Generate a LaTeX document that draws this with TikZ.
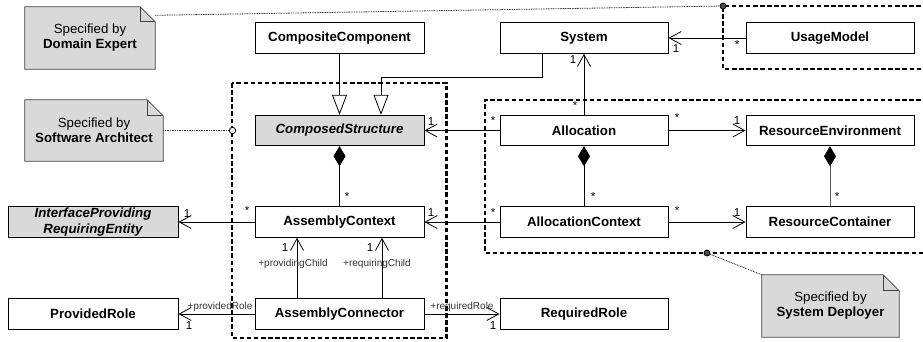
\documentclass[tikz,border=0pt]{standalone}
\usepackage{fontspec}
\setmainfont{Liberation Sans}
\usetikzlibrary{arrows.meta,backgrounds}

\tikzset{
  cls/.style={draw, line width=0.9pt, fill=white, minimum width=169pt, minimum height=30.5pt,
    inner sep=0pt, align=center, font=\fontsize{13.3}{15}\selectfont\bfseries},
  abstractcls/.style={cls, fill=gray!30, font=\fontsize{13.3}{15.5}\selectfont\bfseries\itshape},
  assoc/.style={draw, line width=0.8pt, -{Straight Barb[length=12pt,width=13pt]}},
  gen/.style={draw, line width=0.8pt, -{Triangle[length=20pt,width=15pt,fill=white]}},
  comp/.style={draw, line width=0.8pt, {Diamond[length=20pt,width=12pt,color=black]}-},
  mult/.style={inner sep=0pt, font=\fontsize{11.5}{12}\selectfont},
  role/.style={inner sep=0pt, font=\fontsize{10}{10}\selectfont, text=black!80},
  region/.style={line width=2.8pt, dash pattern=on 4.5pt off 2.6pt},
  notetext/.style={inner sep=0pt, align=center, font=\fontsize{13.3}{15}\selectfont},
  notebody/.style={draw=black!75, line width=0.8pt, fill=gray!30},
  notefold/.style={draw=black!75, line width=0.8pt},
  annot/.style={draw=black!80, line width=0.8pt, dash pattern=on 1pt off 0.7pt},
  dot/.style={draw=black, line width=0.8pt, fill=gray!60!black},
  opendot/.style={draw=black, line width=0.8pt, fill=white},
}

% dog-eared note outline behind a text node: #1 node name, #2 fold size
\newcommand\dogear[2]{%
  \begin{scope}[on background layer]
    \draw[notebody] (#1.north west) -- ([xshift=-#2]#1.north east)
      -- ([yshift=-#2]#1.north east) -- (#1.south east) -- (#1.south west) -- cycle;
    \draw[notefold] ([xshift=-#2]#1.north east) -- ([xshift=-#2,yshift=-#2]#1.north east)
      -- ([yshift=-#2]#1.north east);
  \end{scope}}

\begin{document}
\begin{tikzpicture}[x=1pt,y=-1pt]
\useasboundingbox (0,0) rectangle (923,341);

% responsibility regions
\draw[region] (232,83) rectangle (446.5,338);
\draw[region] (935,100) -- (485,100) -- (485,253) -- (935,253);
\draw[region] (935,6) -- (723,6) -- (723,69) -- (935,69);

% classes
\node[cls] (CompositeComponent) at (339.5,38) {CompositeComponent};
\node[cls, minimum width=168pt] (System) at (584,38) {System};
\node[cls, minimum width=168pt] (UsageModel) at (830,38) {UsageModel};
\node[abstractcls] (ComposedStructure) at (339.5,130.5) {ComposedStructure};
\node[cls, minimum width=168pt] (Allocation) at (584,130.5) {Allocation};
\node[cls, minimum width=168pt] (ResourceEnvironment) at (830,130.5) {ResourceEnvironment};
\node[abstractcls, minimum width=170pt] (IPRE) at (93,222) {InterfaceProviding\\RequiringEntity};
\node[cls] (AssemblyContext) at (339.5,222) {AssemblyContext};
\node[cls, minimum width=168pt] (AllocationContext) at (584,222) {AllocationContext};
\node[cls, minimum width=168pt] (ResourceContainer) at (830,222) {ResourceContainer};
\node[cls, minimum width=170pt] (ProvidedRole) at (93,314) {ProvidedRole};
\node[cls] (AssemblyConnector) at (339.5,314) {AssemblyConnector};
\node[cls, minimum width=168pt] (RequiredRole) at (584,314) {RequiredRole};

% notes
\node[notetext, minimum width=130pt, minimum height=62pt] (deNote) at (90,38)
  {Specified by\\\textbf{Domain Expert}};
\node[notetext, minimum width=138pt, minimum height=61pt] (saNote) at (94,130.5)
  {Specified by\\\textbf{Software Architect}};
\node[notetext, minimum width=137pt, minimum height=62pt] (sdNote) at (830.5,306)
  {Specified by\\\textbf{System Deployer}};
\dogear{deNote}{15pt}
\dogear{saNote}{16pt}
\dogear{sdNote}{16pt}

% generalisations
\draw[gen] (CompositeComponent.south) -- (ComposedStructure.north);
\draw[gen] ([xshift=-42pt]System.south) -- ++(0,24) -| ([xshift=41.5pt]ComposedStructure.north);

% compositions
\draw[comp] (ComposedStructure.south) -- (AssemblyContext.north);
\draw[comp] (Allocation.south) -- (AllocationContext.north);
\draw[comp, draw=black!65] (ResourceEnvironment.south) -- (ResourceContainer.north);

% associations
\draw[assoc] (Allocation.north) -- (System.south);
\draw[assoc] (UsageModel.west) -- (System.east);
\draw[assoc] (Allocation.west) -- (ComposedStructure.east);
\draw[assoc] (Allocation.east) -- (ResourceEnvironment.west);
\draw[assoc] (AllocationContext.west) -- (AssemblyContext.east);
\draw[assoc] (AllocationContext.east) -- (ResourceContainer.west);
\draw[assoc] (AssemblyContext.west) -- (IPRE.east);
\draw[assoc] ([xshift=-42.5pt]AssemblyConnector.north) -- ([xshift=-42.5pt]AssemblyContext.south);
\draw[assoc] ([xshift=42.5pt]AssemblyConnector.north) -- ([xshift=42.5pt]AssemblyContext.south);
\draw[assoc] (AssemblyConnector.west) -- (ProvidedRole.east);
\draw[assoc] (AssemblyConnector.east) -- (RequiredRole.west);

% multiplicities
\node[mult] (m1) at (573,60) {1};
\node[mult] (m2) at (575,106) {*};
\node[mult] (m3) at (676,49) {1};
\node[mult] (m4) at (737,45) {*};
\node[mult] (m5) at (431,122) {1};
\node[mult] (m6) at (493,121) {*};
\node[mult] (m7) at (677,118) {*};
\node[mult] (m8) at (737,121) {1};
\node[mult] (m9) at (347,197) {*};
\node[mult] (m10) at (593,197) {*};
\node[mult] (m11) at (837,197) {*};
\node[mult] (m12) at (431,213) {1};
\node[mult] (m13) at (493,213) {*};
\node[mult] (m14) at (677,211) {*};
\node[mult] (m15) at (737,213) {1};
\node[mult] (m16) at (187,214) {1};
\node[mult] (m17) at (247,211) {*};
\node[mult] (m18) at (285,248) {1};
\node[mult] (m19) at (370,248) {1};
\node[mult] (m20) at (189,326) {1};
\node[mult] (m21) at (493,326) {1};

% role names
\node[role] (r1) at (293,264) {+providingChild};
\node[role] (r2) at (377,264) {+requiringChild};
\node[role] (r3) at (220,307) {+providedRole};
\node[role] (r4) at (462,307) {+requiredRole};

% note anchors on the regions
\coordinate (umDot) at (723,6);
\coordinate (csDot) at (232.5,130.5);
\coordinate (sdDot) at (707,253);
\draw[annot] ([yshift=-8.5pt]deNote.north east) -- (umDot);
\draw[annot] (saNote.east) -- (csDot);
\draw[annot] (sdDot) -- (sdNote.north west);
\path[dot] (umDot) circle (3pt);
\path[dot] (sdDot) circle (3pt);
\path[opendot] (csDot) circle (3.2pt);
\end{tikzpicture}
\end{document}
